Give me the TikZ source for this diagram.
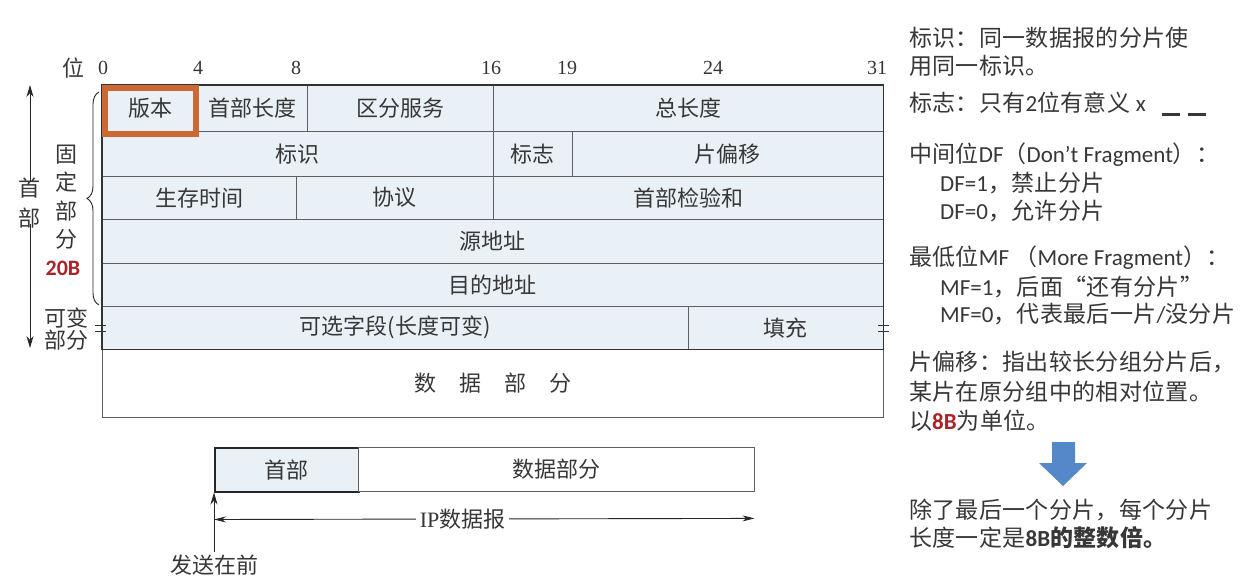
\documentclass[tikz,border=0pt]{standalone}
\usepackage{fontspec}
\setmainfont{Liberation Serif}
\newfontfamily\cjk{Noto Sans CJK SC}
\newfontfamily\cjknote{Noto Sans CJK SC}[LetterSpace=1.5]
\newfontfamily\la{Carlito}
\usetikzlibrary{positioning, arrows.meta, decorations.pathreplacing}
\definecolor{cellB}{RGB}{233,241,246}
\definecolor{lineG}{RGB}{95,95,95}
\definecolor{txtG}{RGB}{55,55,55}
\definecolor{verO}{RGB}{204,104,52}
\definecolor{redB}{RGB}{170,35,40}
\definecolor{arrB}{RGB}{84,136,200}

\tikzset{
  fld/.style 2 args={draw=lineG, fill=cellB, anchor=north west, inner sep=0pt,
    minimum width=#1pt, minimum height=#2pt,
    font=\cjk\fontsize{22}{22}\selectfont, text=txtG},
  bitno/.style={font=\fontsize{20}{20}\selectfont, text=txtG},
  side/.style={align=center, text=txtG, inner sep=0pt},
  note/.style={anchor=west, inner sep=0pt, font=\cjknote\fontsize{23}{23}\selectfont, text=txtG},
  tip/.style={-{Stealth[length=12pt,width=7pt]}, black!85, line width=0.9pt},
}

\begin{document}
\begin{tikzpicture}[x=1pt, y=-1pt]
    \fill[white] (0,0) rectangle (1242,585);
    \useasboundingbox (0,0) rectangle (1242,585);

    % bit positions
    \node[side, font=\cjk\fontsize{22}{22}\selectfont] (wei) at (73,68) {位};
    \foreach \b/\x in {0/103, 4/198, 8/296, 16/491, 19/567, 24/713, 31/877}
        \node[bitno] (b\b) at (\x,68) {\b};

    % header fields
    \node[fld={96}{46}]  (ver)  at (102,85)  {版本};
    \node[fld={109}{46}] (ihl)  at (198,85)  {首部长度};
    \node[fld={186}{46}] (tos)  at (307,85)  {区分服务};
    \node[fld={390}{46}] (tlen) at (493,85)  {总长度};
    \node[fld={391}{45}] (ident) at (102,131) {标识};
    \node[fld={79}{45}]  (flag) at (493,131) {标志};
    \node[fld={311}{45}] (foff) at (572,131) {片偏移};
    \node[fld={194}{43}] (ttl)  at (102,176) {生存时间};
    \node[fld={197}{43}] (proto) at (296,176) {协议};
    \node[fld={390}{43}] (csum) at (493,176) {首部检验和};
    \node[fld={781}{44}] (src)  at (102,219) {源地址};
    \node[fld={781}{43}] (dst)  at (102,263) {目的地址};
    \node[fld={586}{43}] (opt)  at (102,306) {可选字段(长度可变)};
    \node[fld={195}{43}] (pad)  at (688,306) {填充};
    \node[fld={781}{68}, fill=white] (data) at (102,349)
        {数\hspace{23pt}据\hspace{23pt}部\hspace{23pt}分};
    \draw[black!80, line width=1.4pt] (ver.north west) rectangle (pad.south east);
    \draw[verO, line width=6pt] (105,88) rectangle (196,134);

    % tear marks
    \draw[black!80, line width=0.8pt] (95,325) -- (106,325) (95,331) -- (106,331)
        (878,325) -- (889,325) (878,331) -- (889,331);

    % left labels
    \draw[black!85, line width=0.9pt, decorate, decoration={brace, amplitude=12pt}]
        (99,305) -- (99,92);
    \node[side, font=\cjk\fontsize{22}{28.5}\selectfont] (fixed) at (66,197) {固\\定\\部\\分};
    \node[side, font=\la\bfseries\fontsize{22}{22}\selectfont, text=redB] (twenty) at (63,268) {20B};
    \node[side, font=\cjk\fontsize{22}{22}\selectfont] (vari) at (66,329) {可变\\部分};
    \node[side, font=\cjk\fontsize{22}{30}\selectfont] (shoubu) at (30,203) {首\\部};
    \coordinate (htop) at (30,85);
    \coordinate (hbot) at (30,348);
    \draw[tip] ([yshift=-4pt]shoubu.north) -- (htop);
    \draw[tip] ([yshift=4pt]shoubu.south) -- (hbot);

    % datagram
    \node[fld={144}{44}, draw=black!85, line width=1.5pt] (hdr) at (214,447) {首部};
    \node[fld={396}{44}, fill=white] (body) at (358,447) {数据部分};
    \coordinate (ipl) at ([yshift=-27pt]hdr.south west);
    \coordinate (ipr) at ([yshift=-27pt]body.south east);
    \draw[{Stealth[length=12pt,width=6pt]}-{Stealth[length=12pt,width=6pt]}, black!85, line width=0.9pt]
        (ipl) -- node[pos=0.46, fill=white, inner sep=4pt, text=txtG,
        font=\fontsize{22}{22}\selectfont] (iplab) {IP{\cjk 数据报}} (ipr);
    \node[side, font=\cjk\fontsize{22}{22}\selectfont] (send) at (214,565) {发送在前};
    \draw[tip] ([yshift=3pt]send.north) -- (hdr.south west);

    % notes
    \node[note] (n1) at (909,38) {标识：同一数据报的分片使};
    \node[note] (n2) at (909,66) {用同一标识。};
    \node[note] (n3) at (909,104) {标志：只有{\la 2}位有意义 {\la x}\hspace{16pt}\rule[-5pt]{18pt}{3.5pt}\hspace{8pt}\rule[-5pt]{18pt}{3.5pt}};
    \node[note] (n4) at (909,155) {中间位{\la DF}（{\la Don’t Fragment}）：};
    \node[note] (n5) at (940,183) {{\la DF=1}，禁止分片};
    \node[note] (n6) at (940,211) {{\la DF=0}，允许分片};
    \node[note] (n7) at (909,258) {最低位{\la MF} （{\la More Fragment}）：};
    \node[note] (n8) at (940,287) {{\la MF=1}，后面“还有分片”};
    \node[note] (n9) at (940,314) {{\la MF=0}，代表最后一片{\la /}没分片};
    \node[note] (n10) at (909,362) {片偏移：指出较长分组分片后，};
    \node[note] (n11) at (909,392) {某片在原分组中的相对位置。};
    \node[note] (n12) at (909,421) {以{\la\bfseries\color{redB}8B}为单位。};
    \fill[arrB] (1052,442) -- (1075,442) -- (1075,463) -- (1087,463) -- (1063,486)
        -- (1039,463) -- (1052,463) -- cycle;
    \node[note] (n13) at (909,510) {除了最后一个分片，每个分片};
    \node[note] (n14) at (909,538) {长度一定是{\bfseries{\la 8B}的整数倍。}};
\end{tikzpicture}
\end{document}
